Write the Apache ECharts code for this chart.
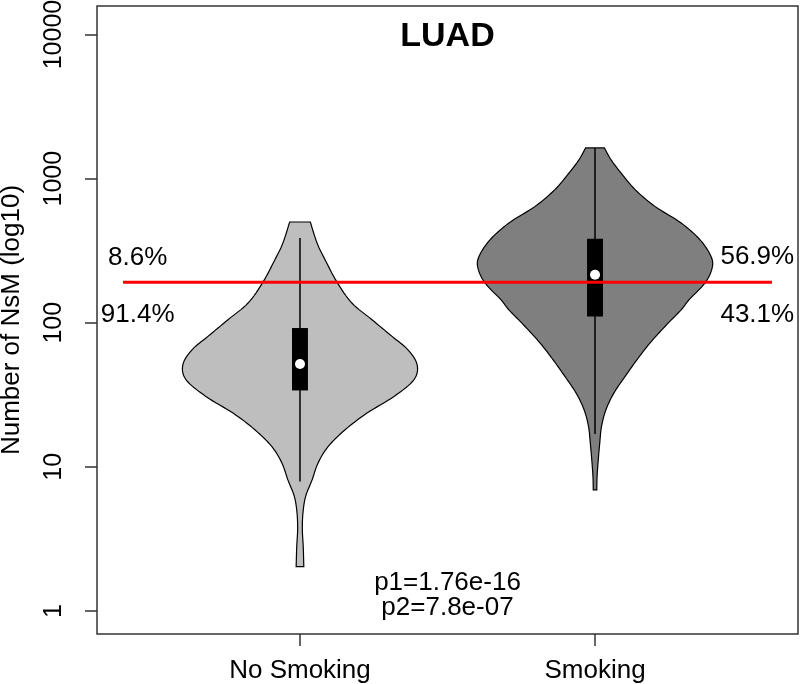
<!DOCTYPE html>
<html>
<head>
<meta charset="utf-8">
<script src="https://cdn.jsdelivr.net/npm/echarts@6/dist/echarts.min.js"></script>
<style>
  html, body { margin: 0; padding: 0; background: #fff; }
  #chart { width: 800px; height: 684px; }
</style>
</head>
<body>
<div id="chart"></div>
<script>
// categories and their x positions
const categories = ['No Smoking', 'Smoking'];
const catPos = [1, 2];
const fillColors = ['#BEBEBE', '#7F7F7F'];

// violin outline: NsM level and half width (in x units)
const noSmokeLevels = [500, 357, 274, 192, 137, 105, 80.4, 64.9, 51.1, 40.2, 30.8, 23.6, 18.1, 13.8, 10.6, 8.12, 6.22, 4.77, 3.65, 2.8, 2.03];
const noSmokeHalf = [0.035, 0.058, 0.085, 0.125, 0.176, 0.244, 0.312, 0.366, 0.397, 0.386, 0.319, 0.227, 0.153, 0.095, 0.061, 0.041, 0.019, 0.010, 0.008, 0.011, 0.013];
const smokeLevels = [1633, 1355, 1096, 839, 642, 492, 376, 289, 240, 189, 144.5, 123, 94.2, 72.2, 55.3, 42.4, 32.5, 24.9, 19.05, 14.6, 11.2, 8.57, 6.92];
const smokeHalf = [0.032, 0.054, 0.088, 0.136, 0.203, 0.292, 0.356, 0.393, 0.397, 0.373, 0.319, 0.292, 0.237, 0.186, 0.142, 0.102, 0.064, 0.037, 0.022, 0.016, 0.011, 0.007, 0.006];

// box stats
const q1 = [33.9, 110.6];
const median = [51.7, 215];
const q3 = [91.9, 383];
const whiskerLow = [7.9, 16.9];
const whiskerHigh = [387, 1633];

// threshold line
const threshold = 191;
const thresholdX = [0.4, 2.6];

// axis ticks
const yTicks = [1, 10, 100, 1000, 10000];
const xTicks = [1, 2];

// annotations
const pctX = [0.45, 0.45, 2.55, 2.55];
const pctY = [284, 113, 288, 113];
const pctText = ['8.6%', '91.4%', '56.9%', '43.1%'];
const pX = [1.5, 1.5];
const pY = [1.58, 1.05];
const pText = ['p1=1.76e-16', 'p2=7.8e-07'];
const titleText = 'LUAD';
const titleY = 9600;

const font = "'Liberation Sans', Arial, sans-serif";
const violinLevels = [noSmokeLevels, smokeLevels];
const violinHalf = [noSmokeHalf, smokeHalf];

// smooth a side of the outline (pixel space, catmull-rom)
function smoothSide(pts) {
  const out = [];
  const n = pts.length;
  for (let i = 0; i < n - 1; i++) {
    const p0 = pts[Math.max(i - 1, 0)], p1 = pts[i], p2 = pts[i + 1], p3 = pts[Math.min(i + 2, n - 1)];
    for (let s = 0; s < 8; s++) {
      const t = s / 8, t2 = t * t, t3 = t2 * t;
      out.push([0, 1].map(d => 0.5 * (2 * p1[d] + (-p0[d] + p2[d]) * t +
        (2 * p0[d] - 5 * p1[d] + 4 * p2[d] - p3[d]) * t2 +
        (-p0[d] + 3 * p1[d] - 3 * p2[d] + p3[d]) * t3)));
    }
  }
  out.push(pts[n - 1]);
  return out;
}

function renderViolin(params, api) {
  const i = params.dataIndex;
  const x = catPos[i];
  const lv = violinLevels[i];
  const hw = violinHalf[i];
  const right = smoothSide(lv.map((v, k) => api.coord([x + hw[k], v])));
  const left = smoothSide(lv.map((v, k) => api.coord([x - hw[k], v]))).reverse();
  const bw = 0.027;
  const a = api.coord([x - bw, q3[i]]);
  const b = api.coord([x + bw, q1[i]]);
  const m = api.coord([x, median[i]]);
  const wt = api.coord([x, whiskerHigh[i]]);
  const wb = api.coord([x, whiskerLow[i]]);
  return {
    type: 'group',
    children: [
      { type: 'polygon', shape: { points: right.concat(left) },
        style: { fill: fillColors[i], stroke: '#000', lineWidth: 1.2 } },
      { type: 'line', shape: { x1: wt[0], y1: wt[1], x2: wb[0], y2: wb[1] },
        style: { stroke: '#000', lineWidth: 1.5 } },
      { type: 'rect', shape: { x: a[0], y: a[1], width: b[0] - a[0], height: b[1] - a[1] },
        style: { fill: '#000' } },
      { type: 'circle', shape: { cx: m[0], cy: m[1], r: 5 }, style: { fill: '#fff' } }
    ]
  };
}

const textItems = [];
pctText.forEach((t, i) => textItems.push({ value: [pctX[i], pctY[i]], text: t, size: 26, weight: 'normal' }));
pText.forEach((t, i) => textItems.push({ value: [pX[i], pY[i]], text: t, size: 26, weight: 'normal' }));
textItems.push({ value: [1.5, titleY], text: titleText, size: 34, weight: 'bold' });

function renderText(params, api) {
  const d = textItems[params.dataIndex];
  const p = api.coord(d.value);
  return {
    type: 'text', x: p[0], y: p[1],
    style: {
      text: d.text, fill: '#000', align: 'center', verticalAlign: 'middle',
      font: d.weight + ' ' + d.size + 'px ' + font
    }
  };
}

const chart = echarts.init(document.getElementById('chart'));
chart.setOption({
  animation: false,
  textStyle: { fontFamily: font },
  grid: {
    left: 97, right: 2, top: 6, bottom: 50,
    show: true, borderColor: '#333', borderWidth: 1.5,
    outerBoundsMode: 'none'
  },
  xAxis: {
    type: 'value', min: 0.312, max: 2.688,
    axisLine: { show: false },
    axisTick: { show: true, length: 12, customValues: xTicks, lineStyle: { color: '#333', width: 1.5 } },
    axisLabel: {
      customValues: xTicks, margin: 24, fontSize: 26, color: '#000', fontFamily: font,
      formatter: v => categories[catPos.indexOf(v)]
    },
    splitLine: { show: false }
  },
  yAxis: {
    type: 'log', logBase: 10, min: 0.692, max: 15776,
    name: 'Number of NsM (log10)', nameLocation: 'middle', nameGap: 72, nameRotate: 90,
    nameTextStyle: { fontSize: 26, color: '#000', fontFamily: font },
    axisLine: { show: false },
    axisTick: { show: true, length: 12, customValues: yTicks, lineStyle: { color: '#333', width: 1.5 } },
    axisLabel: {
      customValues: yTicks, rotate: 90, margin: 30, fontSize: 25, color: '#000', fontFamily: font,
      formatter: v => String(v)
    },
    splitLine: { show: false }
  },
  series: [
    {
      type: 'custom',
      renderItem: renderViolin,
      data: categories.map((c, i) => [catPos[i], median[i]]),
      encode: { x: 0, y: 1 },
      z: 2
    },
    {
      type: 'line',
      data: thresholdX.map(x => [x, threshold]),
      symbol: 'none',
      lineStyle: { color: '#FF0000', width: 3 },
      z: 5
    },
    {
      type: 'custom',
      renderItem: renderText,
      silent: true,
      data: textItems.map(d => d.value),
      encode: { x: 0, y: 1 },
      z: 6
    }
  ]
});
</script>
</body>
</html>
